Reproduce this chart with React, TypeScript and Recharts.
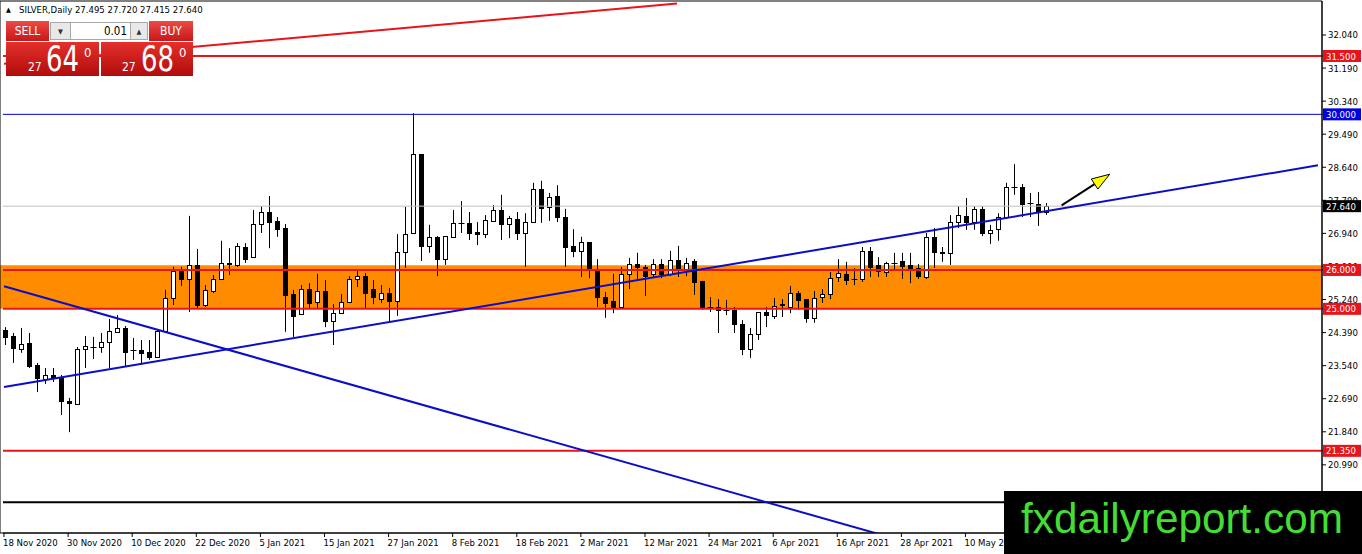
import React from 'react'
import { ComposedChart, Bar, XAxis, YAxis, ReferenceLine, ReferenceArea } from 'recharts'

const FONT = "Tahoma, 'DejaVu Sans Condensed', 'DejaVu Sans', sans-serif"

// every 8th bar gets a date label (MT4 style)
const dateLabels = [
  '18 Nov 2020', '30 Nov 2020', '10 Dec 2020', '22 Dec 2020', '5 Jan 2021', '15 Jan 2021',
  '27 Jan 2021', '8 Feb 2021', '18 Feb 2021', '2 Mar 2021', '12 Mar 2021', '24 Mar 2021',
  '6 Apr 2021', '16 Apr 2021', '28 Apr 2021', '10 May 2021',
]

const opens = [
  24.46, 24.30, 23.97, 24.12, 23.56, 23.20, 23.30, 23.22, 22.63, 22.55,
  23.97, 24.02, 24.02, 24.15, 24.41, 24.51, 23.94, 23.94, 23.89, 23.76,
  24.43, 25.28, 25.97, 25.77, 26.13, 25.10, 25.46, 25.77, 26.18, 26.13,
  26.59, 26.33, 27.18, 27.49, 27.26, 27.08, 25.38, 24.87, 25.51, 25.18,
  25.46, 24.69, 24.89, 25.18, 25.77, 25.84, 25.51, 25.25, 25.41, 25.20,
  26.46, 26.95, 28.98, 26.62, 26.85, 26.28, 26.85, 27.21, 27.21, 26.98,
  26.92, 27.26, 27.54, 27.18, 27.31, 26.95, 27.23, 28.08, 27.62, 27.90,
  27.36, 26.62, 26.49, 26.72, 26.02, 25.30, 25.20, 25.05, 25.90, 26.15,
  26.08, 25.90, 26.15, 25.90, 26.26, 26.02, 26.23, 25.72, 25.05, 25.05,
  24.97, 24.97, 24.61, 23.97, 24.35, 24.92, 24.82, 25.12, 25.05, 25.41,
  25.25, 24.77, 25.30, 25.38, 25.82, 25.90, 25.77, 25.77, 26.49, 26.13,
  25.95, 26.18, 26.23, 26.13, 26.05, 25.82, 26.85, 26.46, 26.44, 27.23,
  27.39, 27.23, 27.57, 26.95, 27.05, 27.36, 28.13, 28.13, 27.72, 27.70,
  27.495,
]

const highs = [
  24.53, 24.38, 24.51, 24.38, 23.61, 23.48, 23.48, 23.30, 22.71, 24.02,
  24.30, 24.28, 24.38, 24.74, 24.84, 24.56, 24.25, 24.20, 24.20, 24.46,
  25.49, 26.08, 26.08, 27.39, 26.54, 25.61, 25.87, 26.75, 26.56, 26.69,
  26.69, 27.54, 27.64, 27.90, 27.36, 27.18, 25.49, 25.61, 25.66, 25.90,
  25.74, 25.12, 25.38, 25.84, 25.97, 25.92, 25.74, 25.61, 25.54, 26.92,
  27.62, 30.03, 28.98, 27.16, 26.87, 26.87, 27.54, 27.77, 27.49, 27.23,
  27.41, 27.67, 27.93, 27.39, 27.49, 27.46, 28.24, 28.29, 27.98, 28.18,
  27.57, 27.05, 26.85, 26.72, 26.28, 25.43, 25.90, 26.08, 26.31, 26.44,
  26.13, 26.28, 26.28, 26.49, 26.62, 26.31, 26.28, 25.72, 25.30, 25.25,
  25.23, 25.05, 24.71, 24.51, 24.92, 25.05, 25.28, 25.25, 25.59, 25.46,
  25.25, 25.46, 25.51, 25.95, 26.28, 26.21, 26.05, 26.59, 26.59, 26.33,
  26.21, 26.44, 26.44, 26.44, 26.15, 26.95, 27.08, 26.59, 27.41, 27.64,
  27.85, 27.64, 27.64, 27.16, 27.46, 28.24, 28.72, 28.21, 27.98, 28.00,
  27.72,
]

const lows = [
  24.07, 23.61, 23.87, 23.48, 22.86, 23.07, 23.12, 22.27, 21.83, 22.53,
  23.48, 23.71, 23.87, 23.48, 24.41, 23.51, 23.69, 23.56, 23.69, 23.76,
  24.43, 25.10, 25.59, 24.92, 25.02, 25.05, 25.41, 25.77, 25.87, 26.08,
  26.18, 26.31, 26.95, 26.56, 26.85, 24.41, 24.28, 24.84, 25.02, 25.02,
  24.53, 24.07, 24.87, 25.15, 25.56, 25.02, 25.12, 25.15, 24.66, 24.82,
  26.05, 26.95, 26.23, 26.44, 25.84, 26.13, 26.85, 26.95, 26.77, 26.64,
  26.82, 27.26, 26.77, 26.82, 26.77, 26.08, 27.23, 27.21, 27.26, 27.23,
  26.08, 26.33, 25.82, 25.79, 25.05, 24.77, 24.89, 25.05, 25.51, 25.77,
  25.33, 25.82, 25.79, 25.84, 25.82, 25.84, 25.36, 24.97, 24.92, 24.38,
  24.84, 24.38, 23.81, 23.74, 24.20, 24.53, 24.74, 24.79, 24.89, 24.97,
  24.64, 24.64, 25.15, 25.25, 25.69, 25.61, 25.61, 25.69, 25.82, 25.82,
  25.82, 25.99, 25.77, 25.66, 25.77, 25.77, 26.05, 26.21, 26.13, 27.08,
  27.03, 27.03, 26.87, 26.67, 26.75, 27.36, 27.93, 27.36, 27.36, 27.13,
  27.415,
]

const closes = [
  24.28, 23.99, 24.10, 23.53, 23.22, 23.30, 23.25, 22.63, 22.58, 23.97,
  24.05, 24.01, 24.15, 24.43, 24.51, 23.89, 23.93, 23.87, 23.76, 24.43,
  25.28, 25.97, 25.77, 26.13, 25.10, 25.49, 25.77, 26.18, 26.15, 26.62,
  26.28, 27.18, 27.49, 27.23, 27.05, 25.36, 24.82, 25.51, 25.15, 25.46,
  24.69, 24.89, 25.18, 25.77, 25.84, 25.41, 25.30, 25.41, 25.20, 26.46,
  26.92, 28.98, 26.62, 26.85, 26.28, 26.87, 27.21, 27.20, 26.95, 26.92,
  27.28, 27.54, 27.18, 27.34, 26.95, 27.23, 28.08, 27.59, 27.88, 27.36,
  26.59, 26.49, 26.72, 26.02, 25.30, 25.15, 25.05, 25.90, 26.15, 26.08,
  25.84, 26.15, 25.90, 26.26, 26.05, 26.18, 25.69, 25.02, 25.04, 24.97,
  24.96, 24.61, 23.97, 24.35, 24.92, 24.84, 25.07, 25.11, 25.41, 25.23,
  24.77, 25.28, 25.38, 25.79, 25.92, 25.74, 25.76, 26.49, 26.08, 25.97,
  26.18, 26.17, 26.10, 26.02, 25.84, 26.85, 26.46, 26.44, 27.23, 27.41,
  27.23, 27.57, 26.95, 27.03, 27.36, 28.13, 28.12, 27.70, 27.71, 27.49,
  27.64,
]

const priceTicks = [32.04, 31.19, 30.34, 29.49, 28.64, 27.79, 26.94, 26.09, 25.24, 24.39, 23.54, 22.69, 21.84, 20.99]

// price tags on the right scale (drawn after the plain ticks so they cover them)
const tagPrices = [31.5, 30.0, 27.64, 26.0, 25.0, 21.35]
const tagColors = ['#e8141b', '#0000e0', '#000000', '#e8141b', '#e8141b', '#e8141b']

// drawn objects
const redLevels = [31.5, 26.0, 25.0, 21.35]
const blueLevel = 30.0
const lastPrice = 27.64
const zone = [25.0, 26.12]
const blackLevel = 20.03
const risingTrend = [{ i: 0, p: 22.99 }, { i: 164, p: 28.69 }]
const fallingTrend = [{ i: 0, p: 25.58 }, { i: 120, p: 18.58 }]
const redTrend = [{ i: 0, p: 31.3 }, { i: 84, p: 32.85 }]
const arrowPts = [{ i: 132, p: 27.66 }, { i: 138, p: 28.46 }]

const SLOTS = 165
const Y_MIN = 19.238
const Y_MAX = 32.914

const data = Array.from({ length: SLOTS }, (_, i) =>
  i < opens.length
    ? { i, range: [lows[i], highs[i]], open: opens[i], high: highs[i], low: lows[i], close: closes[i] }
    : { i }
)

function Candle(props: any) {
  const { x, y, width, height, payload } = props
  if (!payload || payload.open == null || !isFinite(y)) return <g />
  const top = Math.min(y, y + height)
  const span = Math.abs(height)
  const k = span / (payload.high - payload.low)
  const py = (v: number) => top + (payload.high - v) * k
  const cx = Math.round(x + width / 2) + 0.5
  const up = payload.close >= payload.open
  const bTop = Math.round(py(Math.max(payload.open, payload.close)))
  const bBot = Math.round(py(Math.min(payload.open, payload.close)))
  return (
    <g>
      <line x1={cx} x2={cx} y1={top} y2={top + span} stroke="#000" strokeWidth={1} />
      {bBot - bTop < 1 ? (
        <line x1={cx - 3} x2={cx + 3} y1={bTop + 0.5} y2={bTop + 0.5} stroke="#000" strokeWidth={1} />
      ) : (
        <rect x={cx - 2} y={bTop + 0.5} width={4} height={bBot - bTop} fill={up ? '#fff' : '#000'} stroke="#000" strokeWidth={1} />
      )}
    </g>
  )
}

function DateTick(props: any) {
  const { x, y, payload } = props
  const label = dateLabels[payload.value / 8]
  if (!label) return <g />
  return (
    <text x={x - 1} y={y + 7} fontSize={9.5} fontFamily={FONT} fill="#000">
      {label}
    </text>
  )
}

function PriceTick(props: any) {
  const { x, y, payload } = props
  const v = payload.value as number
  const k = tagPrices.indexOf(v)
  if (k >= 0) {
    return (
      <g>
        <rect x={x - 5} y={y - 6} width={38} height={12} fill={tagColors[k]} />
        <text x={x - 2} y={y + 3.5} fontSize={9.5} fontFamily={FONT} fill="#fff">
          {v.toFixed(3)}
        </text>
      </g>
    )
  }
  return (
    <text x={x} y={y + 3.5} fontSize={9.5} fontFamily={FONT} fill="#000">
      {v.toFixed(3)}
    </text>
  )
}

function Arrow(props: any) {
  const { x1, y1, x2, y2 } = props
  const dx = x2 - x1
  const dy = y2 - y1
  const len = Math.sqrt(dx * dx + dy * dy)
  const ux = dx / len
  const uy = dy / len
  const bx = x2 - ux * 18
  const by = y2 - uy * 18
  const px = -uy * 6
  const py = ux * 6
  return (
    <g>
      <line x1={x1} y1={y1} x2={bx} y2={by} stroke="#000" strokeWidth={2} />
      <polygon points={`${x2},${y2} ${bx + px},${by + py} ${bx - px},${by - py}`} fill="#ffff00" stroke="#000" strokeWidth={1} />
    </g>
  )
}

function TradePanel() {
  return (
    <svg width={260} height={80} style={{ position: 'absolute', left: 0, top: 0 }}>
      <defs>
        <linearGradient id="btnRed" x1="0" y1="0" x2="0" y2="1">
          <stop offset="0" stopColor="#ec4a44" />
          <stop offset="1" stopColor="#c8171a" />
        </linearGradient>
        <linearGradient id="boxRed" x1="0" y1="0" x2="0" y2="1">
          <stop offset="0" stopColor="#e3302c" />
          <stop offset="1" stopColor="#b20c0c" />
        </linearGradient>
      </defs>
      <text x={6} y={12} fontSize={7} fontFamily={FONT} fill="#000">▲</text>
      <text x={19} y={13} fontSize={9.5} fontFamily={FONT} fill="#000">SILVER,Daily  27.495 27.720 27.415 27.640</text>
      <rect x={6} y={21} width={43} height={20} fill="url(#btnRed)" />
      <text x={27.5} y={35} fontSize={12} fontFamily={FONT} fill="#fff" textAnchor="middle">SELL</text>
      <rect x={50.5} y={22.5} width={20} height={17} fill="#e8e8e8" stroke="#a8a8a8" />
      <text x={60.5} y={34} fontSize={7} fontFamily={FONT} fill="#333" textAnchor="middle">▼</text>
      <rect x={70.5} y={22.5} width={60} height={17} fill="#fff" stroke="#a8a8a8" />
      <text x={127} y={35} fontSize={11.5} fontFamily={FONT} fill="#000" textAnchor="end">0.01</text>
      <rect x={130.5} y={22.5} width={17} height={17} fill="#e8e8e8" stroke="#a8a8a8" />
      <text x={139} y={34} fontSize={7} fontFamily={FONT} fill="#333" textAnchor="middle">▲</text>
      <rect x={149} y={21} width={44} height={20} fill="url(#btnRed)" />
      <text x={171} y={35} fontSize={12} fontFamily={FONT} fill="#fff" textAnchor="middle">BUY</text>
      <rect x={6} y={42} width={93} height={34} fill="url(#boxRed)" />
      <text x={28} y={71} fontSize={12} fontFamily={FONT} fill="#fff">27</text>
      <text x={46} y={71} fontSize={36} fontFamily={FONT} fill="#fff" textLength={33} lengthAdjust="spacingAndGlyphs">64</text>
      <text x={84} y={57} fontSize={13} fontFamily={FONT} fill="#fff">0</text>
      <rect x={101} y={42} width={92} height={34} fill="url(#boxRed)" />
      <text x={122} y={71} fontSize={12} fontFamily={FONT} fill="#fff">27</text>
      <text x={141} y={71} fontSize={36} fontFamily={FONT} fill="#fff" textLength={33} lengthAdjust="spacingAndGlyphs">68</text>
      <text x={179} y={57} fontSize={13} fontFamily={FONT} fill="#fff">0</text>
    </svg>
  )
}

function Logo() {
  return (
    <svg width={358} height={63} style={{ position: 'absolute', left: 1004, top: 491 }}>
      <rect x={0} y={0} width={358} height={63} fill="#000" />
      <text x={17} y={42} fontSize={43} fontFamily="'Liberation Sans', Arial, sans-serif" fill="#44dd33" textLength={322} lengthAdjust="spacingAndGlyphs">
        fxdailyreport.com
      </text>
    </svg>
  )
}

export default function App() {
  return (
    <div style={{ position: 'absolute', left: 0, top: 0, width: 1362, height: 554, background: '#fff', overflow: 'hidden' }}>
      <ComposedChart width={1362} height={554} data={data} margin={{ top: 1, right: 0, bottom: 0, left: 3 }}>
        <XAxis
          dataKey="i"
          type="category"
          interval={7}
          height={21}
          tickSize={4}
          padding={{ left: -3, right: 0 }}
          axisLine={{ stroke: '#000' }}
          tickLine={{ stroke: '#000' }}
          tick={<DateTick />}
        />
        <YAxis
          yAxisId="p"
          orientation="right"
          width={40}
          domain={[Y_MIN, Y_MAX]}
          allowDataOverflow
          ticks={[...priceTicks, ...tagPrices]}
          interval={0}
          tickSize={4}
          tickMargin={2}
          axisLine={{ stroke: '#000' }}
          tickLine={{ stroke: '#000' }}
          tick={<PriceTick />}
        />
        <ReferenceArea yAxisId="p" y1={zone[0]} y2={zone[1]} fill="#ff8c00" fillOpacity={1} stroke="none" />
        <ReferenceArea yAxisId="p" y1={Y_MIN} y2={Y_MAX} fill="none" stroke="#000" strokeWidth={1} />
        <Bar yAxisId="p" dataKey="range" barSize={5} shape={Candle} isAnimationActive={false} />
        <ReferenceLine yAxisId="p" y={lastPrice} stroke="#c0c0c0" strokeWidth={1} />
        <ReferenceLine yAxisId="p" y={blueLevel} stroke="#0000d0" strokeWidth={1} />
        {redLevels.map((v) => (
          <ReferenceLine key={v} yAxisId="p" y={v} stroke="#e8141b" strokeWidth={2} />
        ))}
        <ReferenceLine yAxisId="p" y={blackLevel} stroke="#000" strokeWidth={2} />
        <ReferenceLine
          yAxisId="p"
          segment={risingTrend.map((d) => ({ x: d.i, y: d.p }))}
          stroke="#0d0dc8"
          strokeWidth={2}
          ifOverflow="hidden"
        />
        <ReferenceLine
          yAxisId="p"
          segment={fallingTrend.map((d) => ({ x: d.i, y: d.p }))}
          stroke="#0d0dc8"
          strokeWidth={2}
          ifOverflow="hidden"
        />
        <ReferenceLine
          yAxisId="p"
          segment={redTrend.map((d) => ({ x: d.i, y: d.p }))}
          stroke="#e8141b"
          strokeWidth={2}
          ifOverflow="hidden"
        />
        <ReferenceLine
          yAxisId="p"
          segment={arrowPts.map((d) => ({ x: d.i, y: d.p }))}
          shape={Arrow}
          ifOverflow="visible"
        />
      </ComposedChart>
      <TradePanel />
      <Logo />
    </div>
  )
}
